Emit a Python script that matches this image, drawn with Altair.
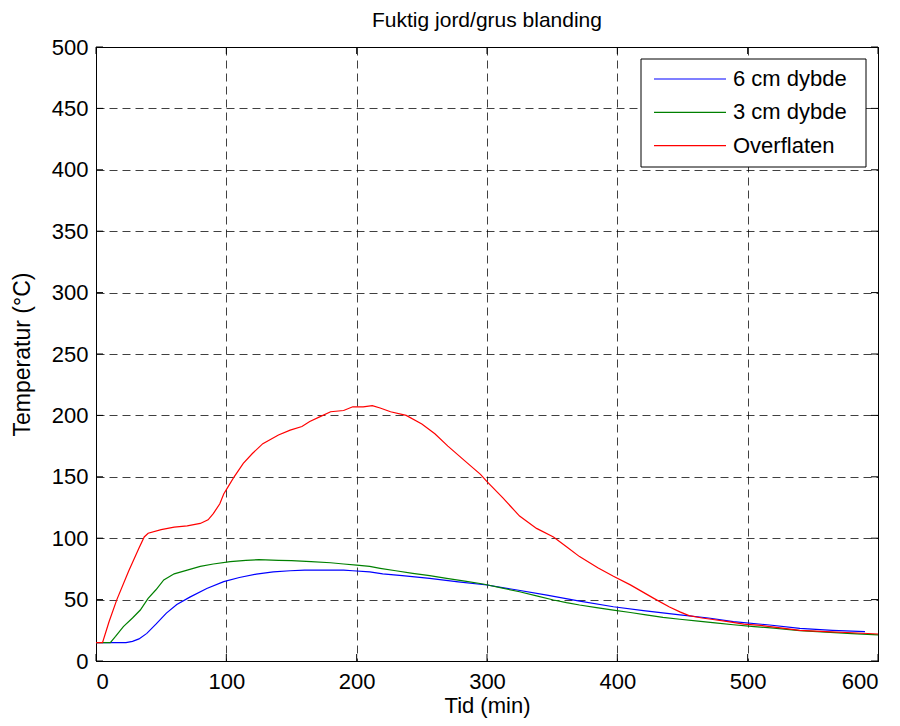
import altair as alt
import pandas as pd

# Series names and colours
series_names = ["6 cm dybde", "3 cm dybde", "Overflaten"]
series_colors = ["#0000ff", "#008000", "#ff0000"]

# Overflaten (red)
t_surf = [0, 5, 10, 16, 25, 33, 37, 40, 50, 60, 70, 80, 86, 90, 95, 98, 102, 106, 113, 120,
          128, 140, 149, 158, 164, 172, 180, 190, 197, 205, 212, 218, 226, 238, 250, 260, 270,
          283, 295, 300, 312, 325, 338, 351, 361, 371, 385, 397, 410, 428, 440, 448, 455, 465,
          472, 485, 497, 510, 525, 540, 560, 580, 600]
temp_surf = [15, 15, 32, 50, 73, 92, 101, 104, 107, 109, 110, 112, 115, 120, 128, 136, 143, 150,
             161, 169, 177, 184, 188, 191, 195, 199, 203, 204, 207, 207, 208, 206, 203, 200, 193,
             185, 175, 163, 152, 146, 133, 118, 108, 101, 93, 85, 76, 69, 62, 51, 44, 40, 37, 35,
             34, 32, 30, 29, 27, 25, 24, 23, 22]

# 3 cm dybde (green)
t_3cm = [0, 11, 15, 21, 28, 34, 40, 46, 52, 60, 70, 80, 90, 103, 115, 125, 140, 150, 165, 180,
         190, 200, 210, 218, 230, 243, 256, 269, 283, 297, 311, 325, 338, 351, 361, 371, 384,
         397, 410, 422, 435, 448, 462, 475, 489, 505, 520, 540, 560, 580, 600]
temp_3cm = [15, 15, 20, 28, 35, 41.5, 51, 58, 66, 71, 74, 77, 79, 81, 82, 82.5, 82, 81.7, 81, 80,
            79, 78, 77, 75.5, 73.5, 71.4, 69.5, 67.3, 65, 62.7, 59.5, 56.4, 53, 49.7, 47.5, 45.6,
            43.5, 41.5, 39.5, 37.5, 35.5, 34, 32.5, 31, 29.5, 28, 26.8, 24.7, 23.5, 22.3, 21.2]

# 6 cm dybde (blue)
t_6cm = [0, 23, 28, 33, 39, 46, 54, 62, 72, 85, 98, 110, 123, 136, 149, 160, 175, 190, 197, 210,
         220, 235, 256, 278, 300, 322, 346, 370, 397, 420, 448, 470, 489, 515, 540, 565, 590]
temp_6cm = [15, 15, 16, 18, 22.5, 30, 39, 46, 52, 59, 64.6, 68, 70.8, 72.5, 73.5, 74, 74, 74, 73.5,
            72.5, 71, 69.5, 67.3, 64.5, 61.9, 58, 53.7, 49, 44.2, 41, 37.5, 35, 32, 29.5, 26.6,
            25, 23.9]

x_ticks = [0, 100, 200, 300, 400, 500, 600]
y_ticks = [0, 50, 100, 150, 200, 250, 300, 350, 400, 450, 500]

rows = []
for name, xs, ys in [(series_names[0], t_6cm, temp_6cm),
                     (series_names[1], t_3cm, temp_3cm),
                     (series_names[2], t_surf, temp_surf)]:
    for x, y in zip(xs, ys):
        rows.append({"serie": name, "t": x, "temp": y})
df = pd.DataFrame(rows)

# legend entries: one row per series and per end of the sample line
legend_rows = []
for i, name in enumerate(series_names):
    for end in (0, 1):
        legend_rows.append({"serie": name, "idx": i, "end": end})
legend_df = pd.DataFrame(legend_rows)
box_df = pd.DataFrame({"k": [0]})
xtick_df = pd.DataFrame({"t": x_ticks})
ytick_df = pd.DataFrame({"temp": y_ticks})

W, H = 782, 614
TICK = 7
FONT = "Liberation Sans"
color_scale = alt.Scale(domain=series_names, range=series_colors)
x_scale = alt.Scale(domain=[0, 600], nice=False, zero=False)
y_scale = alt.Scale(domain=[0, 500], nice=False)

lines = alt.Chart(df).mark_line(strokeWidth=1.2, clip=True).encode(
    x=alt.X("t:Q", scale=x_scale,
            axis=alt.Axis(values=x_ticks, title="Tid (min)", grid=True, ticks=False,
                          labelPadding=10, titlePadding=3, format="d")),
    y=alt.Y("temp:Q", scale=y_scale,
            axis=alt.Axis(values=y_ticks, title="Temperatur (°C)", grid=True, ticks=False,
                          labelPadding=8, titlePadding=17, format="d", titleFontSize=23)),
    color=alt.Color("serie:N", scale=color_scale, legend=None),
    order=alt.Order("t:Q"),
)

# inward ticks on all four sides (MATLAB style)
xt_bottom = alt.Chart(xtick_df).mark_rule(color="black", strokeWidth=1).encode(
    x=alt.X("t:Q", scale=x_scale), y=alt.value(H), y2=alt.value(H - TICK))
xt_top = alt.Chart(xtick_df).mark_rule(color="black", strokeWidth=1).encode(
    x=alt.X("t:Q", scale=x_scale), y=alt.value(0), y2=alt.value(TICK))
yt_left = alt.Chart(ytick_df).mark_rule(color="black", strokeWidth=1).encode(
    y=alt.Y("temp:Q", scale=y_scale), x=alt.value(0), x2=alt.value(TICK))
yt_right = alt.Chart(ytick_df).mark_rule(color="black", strokeWidth=1).encode(
    y=alt.Y("temp:Q", scale=y_scale), x=alt.value(W - TICK), x2=alt.value(W))

legend_box = alt.Chart(box_df).mark_rect(fill="white", stroke="black", strokeWidth=1).encode(
    x=alt.value(545), x2=alt.value(770), y=alt.value(12), y2=alt.value(120)
)

legend_lines = alt.Chart(legend_df).transform_calculate(
    ly="32 + datum.idx * 33.3",
    lx="558 + datum.end * 72",
).mark_line(strokeWidth=1.2).encode(
    x=alt.X("lx:Q", scale=None, axis=None),
    y=alt.Y("ly:Q", scale=None, axis=None),
    color=alt.Color("serie:N", scale=color_scale, legend=None),
    detail="serie:N",
)

legend_text = alt.Chart(legend_df).transform_filter(
    "datum.end == 0"
).transform_calculate(
    ly="32 + datum.idx * 33.3"
).mark_text(align="left", baseline="middle", fontSize=22, font=FONT, color="black").encode(
    x=alt.value(637),
    y=alt.Y("ly:Q", scale=None, axis=None),
    text="serie:N",
)

chart = alt.layer(lines, xt_bottom, xt_top, yt_left, yt_right,
                  legend_box, legend_lines, legend_text).properties(
    width=W,
    height=H,
    title=alt.TitleParams("Fuktig jord/grus blanding", fontSize=21, font=FONT,
                          fontWeight="normal", color="black", offset=5, anchor="middle"),
    autosize=alt.AutoSizeParams(type="none"),
    padding={"left": 88, "top": 39, "right": 14, "bottom": 57},
).configure_view(
    stroke="black", strokeWidth=1
).configure_axis(
    domainColor="black", labelColor="black", titleColor="black",
    labelFont=FONT, titleFont=FONT, labelFontSize=22, titleFontSize=22,
    titleFontWeight="normal", gridColor="#000000", gridOpacity=0.75, gridDash=[8, 5],
    gridWidth=1
)

chart.save("out.html", embed_options={"renderer": "svg", "actions": False})
